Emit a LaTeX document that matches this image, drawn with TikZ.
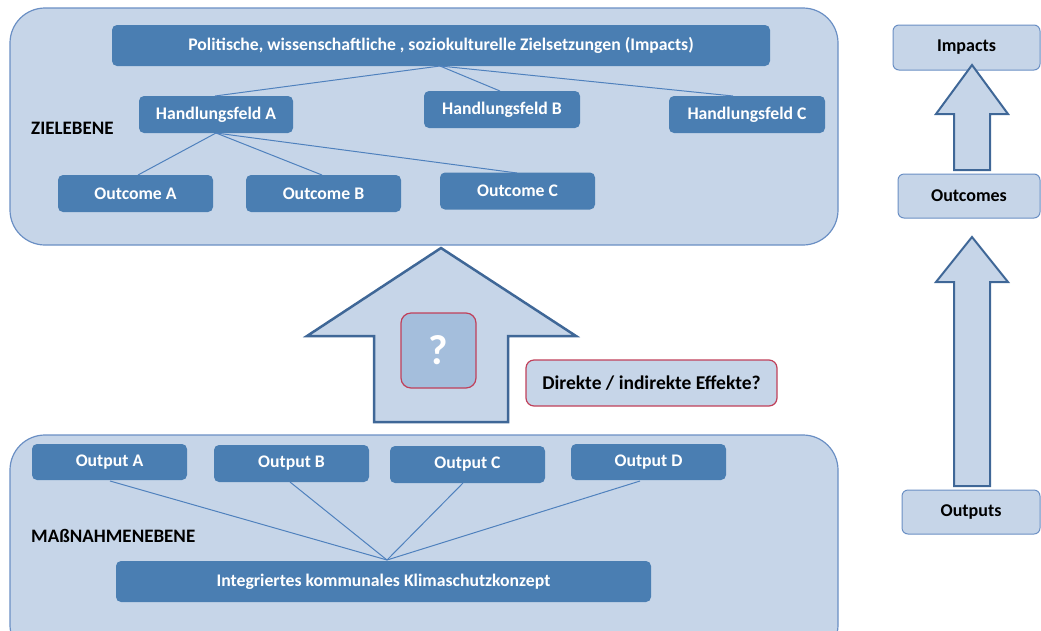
\documentclass[tikz,border=0pt]{standalone}
\usepackage{fontspec}
\setmainfont{Carlito}
\definecolor{panelfill}{HTML}{C6D5E8}
\definecolor{panelline}{HTML}{6A8FC4}
\definecolor{darkbox}{HTML}{4A7EB2}
\definecolor{linkc}{HTML}{4F81BD}
\definecolor{arrowline}{HTML}{3F6797}
\definecolor{redline}{HTML}{C0405A}
\definecolor{qfill}{HTML}{A4BEDC}
\tikzset{
  panel/.style={fill=panelfill, draw=panelline, line width=1.2pt, rounded corners=35pt},
  dbox/.style={fill=darkbox, draw=none, rounded corners=5pt, text=white, font=\bfseries\fontsize{17.7}{20}\selectfont, inner sep=0pt},
  lbox/.style={fill=panelfill, draw=panelline, line width=1pt, rounded corners=6pt, text=black, font=\bfseries\fontsize{18}{20}\selectfont, inner sep=0pt},
  rbox/.style={fill=panelfill, draw=redline, line width=1.2pt, rounded corners=8pt, text=black, font=\bfseries\fontsize{19.5}{22}\selectfont, inner sep=0pt},
  link/.style={draw=linkc, line width=1pt},
  bigarrow/.style={fill=panelfill, draw=arrowline, line width=2.5pt, line join=miter},
  lvl/.style={font=\bfseries\fontsize{19}{21}\selectfont, text=black, anchor=west, inner sep=0pt}
}
\begin{document}
\begin{tikzpicture}[x=1pt,y=-1pt]
\useasboundingbox (0,0) rectangle (1041,630);
% panels
\draw[panel] (10,8) rectangle (838,245);
\draw[panel] (10,435) rectangle (838,660);
% top level
\node[dbox, minimum width=658pt, minimum height=41pt] (imp) at (441,45.5) {Politische, wissenschaftliche , soziokulturelle Zielsetzungen (Impacts)};
\node[dbox, minimum width=154pt, minimum height=37pt] (ha) at (216,114.5) {Handlungsfeld A};
\node[dbox, minimum width=156pt, minimum height=37pt] (hb) at (502,109.5) {Handlungsfeld B};
\node[dbox, minimum width=156pt, minimum height=37pt] (hc) at (747,114.5) {Handlungsfeld C};
\node[dbox, minimum width=155pt, minimum height=37pt] (oa) at (135.5,193.5) {Outcome A};
\node[dbox, minimum width=155pt, minimum height=37pt] (ob) at (323.5,193.5) {Outcome B};
\node[dbox, minimum width=155pt, minimum height=37pt] (oc) at (517.5,191) {Outcome C};
\node[lvl] (ziel) at (31,128) {ZIELEBENE};
\coordinate (impb) at (440,66);
\draw[link] (impb) -- (215,96);
\draw[link] (impb) -- (500,91);
\draw[link] (impb) -- (733,96);
\coordinate (hab) at (216,133);
\draw[link] (hab) -- (138,175);
\draw[link] (hab) -- (322,175);
\draw[link] (hab) -- (517,173);
% bottom level
\node[dbox, minimum width=155pt, minimum height=36pt] (pa) at (109.5,462) {Output A};
\node[dbox, minimum width=155pt, minimum height=37pt] (pb) at (291.5,463.5) {Output B};
\node[dbox, minimum width=155pt, minimum height=37pt] (pc) at (467.5,464.5) {Output C};
\node[dbox, minimum width=155pt, minimum height=36pt] (pd) at (648.5,462) {Output D};
\node[lvl] (mass) at (31,536) {MAßNAHMENEBENE};
\node[dbox, minimum width=535pt, minimum height=41pt] (ikk) at (383.5,581.5) {Integriertes kommunales Klimaschutzkonzept};
\coordinate (ikt) at (387,560);
\draw[link] (110,481) -- (ikt);
\draw[link] (290,482) -- (ikt);
\draw[link] (463,483) -- (ikt);
\draw[link] (640,481) -- (ikt);
% big arrow
\draw[bigarrow] (441,248) -- (576,336) -- (508,336) -- (508,422) -- (374,422) -- (374,336) -- (307,336) -- cycle;
\node[fill=qfill, draw=redline, line width=1.2pt, rounded corners=10pt, minimum width=75pt, minimum height=75pt, text=white, font=\bfseries\fontsize{42}{44}\selectfont, inner sep=0pt] (q) at (438.5,350.5) {?};
\node[rbox, minimum width=251pt, minimum height=46pt] (eff) at (651.5,383) {Direkte / indirekte Effekte?};
% right column
\node[lbox, minimum width=147pt, minimum height=45pt] (rimp) at (966.5,47.5) {\raisebox{-2pt}{Impacts}};
\node[lbox, minimum width=142pt, minimum height=44pt] (rout) at (969,196) {\raisebox{-1pt}{Outcomes}};
\node[lbox, minimum width=138pt, minimum height=44pt] (rput) at (971,512) {Outputs};
\draw[bigarrow, line width=2pt] (972,65) -- (1008,114) -- (990,114) -- (990,170) -- (954,170) -- (954,114) -- (936,114) -- cycle;
\draw[bigarrow, line width=2pt] (972,237) -- (1008,282) -- (990,282) -- (990,486) -- (954,486) -- (954,282) -- (936,282) -- cycle;
\end{tikzpicture}
\end{document}
